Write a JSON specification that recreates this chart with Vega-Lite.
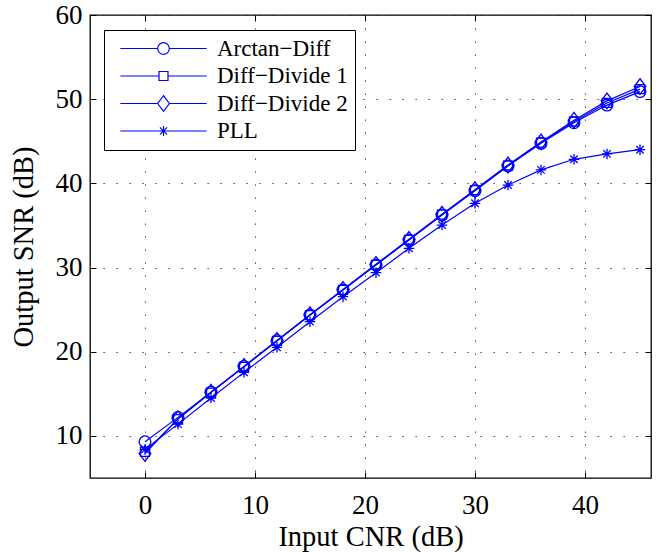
{
  "$schema": "https://vega.github.io/schema/vega-lite/v6.json",
  "width": 561,
  "height": 463,
  "autosize": {"type": "none"},
  "padding": {"left": 90, "top": 15, "right": 8, "bottom": 74},
  "background": "white",
  "config": {
    "view": {"stroke": "#000000", "strokeWidth": 1.3},
    "font": "Liberation Serif",
    "axis": {
      "labelFont": "Liberation Serif",
      "labelFontSize": 27,
      "labelColor": "#000000",
      "titleFont": "Liberation Serif",
      "titleFontSize": 28.5,
      "titleFontWeight": "normal",
      "titleColor": "#000000",
      "domain": false,
      "tickColor": "#000000",
      "tickSize": -6,
      "tickWidth": 1,
      "gridColor": "#222222",
      "gridDash": [1.3, 11.7],
      "gridWidth": 1,
      "gridOpacity": 0.9
    },
    "legend": {
      "labelFont": "Liberation Serif",
      "labelFontSize": 23,
      "labelColor": "#000000"
    }
  },
  "data": {
    "values": [
      {"cnr": 0, "snr": 9.3, "method": "Arctan−Diff"},
      {"cnr": 3, "snr": 12.2, "method": "Arctan−Diff"},
      {"cnr": 6, "snr": 15.2, "method": "Arctan−Diff"},
      {"cnr": 9, "snr": 18.26, "method": "Arctan−Diff"},
      {"cnr": 12, "snr": 21.3, "method": "Arctan−Diff"},
      {"cnr": 15, "snr": 24.36, "method": "Arctan−Diff"},
      {"cnr": 18, "snr": 27.33, "method": "Arctan−Diff"},
      {"cnr": 21, "snr": 30.3, "method": "Arctan−Diff"},
      {"cnr": 24, "snr": 33.27, "method": "Arctan−Diff"},
      {"cnr": 27, "snr": 36.24, "method": "Arctan−Diff"},
      {"cnr": 30, "snr": 39.13, "method": "Arctan−Diff"},
      {"cnr": 33, "snr": 42.06, "method": "Arctan−Diff"},
      {"cnr": 36, "snr": 44.76, "method": "Arctan−Diff"},
      {"cnr": 39, "snr": 47.2, "method": "Arctan−Diff"},
      {"cnr": 42, "snr": 49.3, "method": "Arctan−Diff"},
      {"cnr": 45, "snr": 50.9, "method": "Arctan−Diff"},
      {"cnr": 0, "snr": 8.1, "method": "Diff−Divide 1"},
      {"cnr": 3, "snr": 12.0, "method": "Diff−Divide 1"},
      {"cnr": 6, "snr": 15.15, "method": "Diff−Divide 1"},
      {"cnr": 9, "snr": 18.2, "method": "Diff−Divide 1"},
      {"cnr": 12, "snr": 21.3, "method": "Diff−Divide 1"},
      {"cnr": 15, "snr": 24.35, "method": "Diff−Divide 1"},
      {"cnr": 18, "snr": 27.35, "method": "Diff−Divide 1"},
      {"cnr": 21, "snr": 30.33, "method": "Diff−Divide 1"},
      {"cnr": 24, "snr": 33.3, "method": "Diff−Divide 1"},
      {"cnr": 27, "snr": 36.28, "method": "Diff−Divide 1"},
      {"cnr": 30, "snr": 39.2, "method": "Diff−Divide 1"},
      {"cnr": 33, "snr": 42.12, "method": "Diff−Divide 1"},
      {"cnr": 36, "snr": 44.85, "method": "Diff−Divide 1"},
      {"cnr": 39, "snr": 47.35, "method": "Diff−Divide 1"},
      {"cnr": 42, "snr": 49.55, "method": "Diff−Divide 1"},
      {"cnr": 45, "snr": 51.2, "method": "Diff−Divide 1"},
      {"cnr": 0, "snr": 7.9, "method": "Diff−Divide 2"},
      {"cnr": 3, "snr": 12.05, "method": "Diff−Divide 2"},
      {"cnr": 6, "snr": 15.2, "method": "Diff−Divide 2"},
      {"cnr": 9, "snr": 18.25, "method": "Diff−Divide 2"},
      {"cnr": 12, "snr": 21.35, "method": "Diff−Divide 2"},
      {"cnr": 15, "snr": 24.4, "method": "Diff−Divide 2"},
      {"cnr": 18, "snr": 27.4, "method": "Diff−Divide 2"},
      {"cnr": 21, "snr": 30.38, "method": "Diff−Divide 2"},
      {"cnr": 24, "snr": 33.35, "method": "Diff−Divide 2"},
      {"cnr": 27, "snr": 36.33, "method": "Diff−Divide 2"},
      {"cnr": 30, "snr": 39.25, "method": "Diff−Divide 2"},
      {"cnr": 33, "snr": 42.18, "method": "Diff−Divide 2"},
      {"cnr": 36, "snr": 44.92, "method": "Diff−Divide 2"},
      {"cnr": 39, "snr": 47.5, "method": "Diff−Divide 2"},
      {"cnr": 42, "snr": 49.8, "method": "Diff−Divide 2"},
      {"cnr": 45, "snr": 51.5, "method": "Diff−Divide 2"},
      {"cnr": 0, "snr": 8.4, "method": "PLL"},
      {"cnr": 3, "snr": 11.4, "method": "PLL"},
      {"cnr": 6, "snr": 14.5, "method": "PLL"},
      {"cnr": 9, "snr": 17.55, "method": "PLL"},
      {"cnr": 12, "snr": 20.52, "method": "PLL"},
      {"cnr": 15, "snr": 23.57, "method": "PLL"},
      {"cnr": 18, "snr": 26.54, "method": "PLL"},
      {"cnr": 21, "snr": 29.39, "method": "PLL"},
      {"cnr": 24, "snr": 32.28, "method": "PLL"},
      {"cnr": 27, "snr": 35.05, "method": "PLL"},
      {"cnr": 30, "snr": 37.63, "method": "PLL"},
      {"cnr": 33, "snr": 39.8, "method": "PLL"},
      {"cnr": 36, "snr": 41.6, "method": "PLL"},
      {"cnr": 39, "snr": 42.86, "method": "PLL"},
      {"cnr": 42, "snr": 43.5, "method": "PLL"},
      {"cnr": 45, "snr": 44.0, "method": "PLL"}
    ]
  },
  "layer": [
    {
      "mark": {"type": "line", "color": "#0000ff", "strokeWidth": 1.2},
      "encoding": {
        "x": {
          "field": "cnr", "type": "quantitative",
          "scale": {"domain": [-5, 46], "nice": false, "zero": false},
          "axis": {"orient": "bottom", "values": [0, 10, 20, 30, 40], "title": "Input CNR (dB)", "labelPadding": 20, "titlePadding": 4, "grid": true}
        },
        "y": {
          "field": "snr", "type": "quantitative",
          "scale": {"domain": [5, 60], "nice": false, "zero": false},
          "axis": {"orient": "left", "values": [10, 20, 30, 40, 50, 60], "title": "Output SNR (dB)", "labelPadding": 14, "titlePadding": 17, "grid": true}
        },
        "detail": {"field": "method", "type": "nominal"}
      }
    },
    {
      "mark": {"type": "point", "filled": false, "color": "#0000ff", "strokeWidth": 1.3, "size": 136, "opacity": 1},
      "encoding": {
        "x": {
          "field": "cnr", "type": "quantitative",
          "axis": {"orient": "top", "values": [0, 10, 20, 30, 40], "labels": false, "title": null, "grid": false}
        },
        "y": {
          "field": "snr", "type": "quantitative",
          "axis": {"orient": "right", "values": [10, 20, 30, 40, 50, 60], "labels": false, "title": null, "grid": false}
        },
        "shape": {
          "field": "method", "type": "nominal",
          "scale": {
            "domain": ["Arctan−Diff", "Diff−Divide 1", "Diff−Divide 2", "PLL"],
            "range": [
              "M1,0A1,1,0,1,1,-1,0A1,1,0,1,1,1,0Z",
              "M-0.77,-0.77L0.77,-0.77L0.77,0.77L-0.77,0.77Z",
              "M0,-1.34L1,0L0,1.34L-1,0Z",
              "M-0.9,0L0.9,0M0,-0.9L0,0.9M-0.64,-0.64L0.64,0.64M-0.64,0.64L0.64,-0.64"
            ]
          },
          "legend": null
        }
      }
    },
    {
      "mark": {"type": "point", "filled": false, "color": "#0000ff", "strokeWidth": 1.2, "size": 136, "opacity": 0},
      "encoding": {
        "x": {"field": "cnr", "type": "quantitative", "axis": null},
        "y": {"field": "snr", "type": "quantitative", "axis": null},
        "shape": {
          "field": "method", "type": "nominal",
          "scale": {
            "domain": ["Arctan−Diff", "Diff−Divide 1", "Diff−Divide 2", "PLL"],
            "range": [
              "M-7.4,0L-1,0M1,0L7.4,0M1,0A1,1,0,1,1,-1,0A1,1,0,1,1,1,0",
              "M-7.4,0L-0.77,0M0.77,0L7.4,0M-0.77,-0.77L0.77,-0.77L0.77,0.77L-0.77,0.77Z",
              "M-7.4,0L-1,0M1,0L7.4,0M0,-1.34L1,0L0,1.34L-1,0Z",
              "M-7.4,0L7.4,0M0,-0.86L0,0.86M-0.61,-0.61L0.61,0.61M-0.61,0.61L0.61,-0.61"
            ]
          },
          "legend": {
            "title": null,
            "orient": "none",
            "legendX": 14,
            "legendY": 15,
            "padding": 7,
            "strokeColor": "#000000",
            "fillColor": "#ffffff",
            "symbolSize": 136,
            "symbolOffset": 41,
            "labelOffset": 42,
            "rowPadding": 3.5,
            "symbolOpacity": 1,
            "symbolStrokeWidth": 1.2,
            "symbolStrokeColor": "#0000ff",
            "symbolFillColor": "transparent"
          }
        }
      }
    }
  ],
  "resolve": {"axis": {"x": "independent", "y": "independent"}, "scale": {"shape": "independent"}}
}
